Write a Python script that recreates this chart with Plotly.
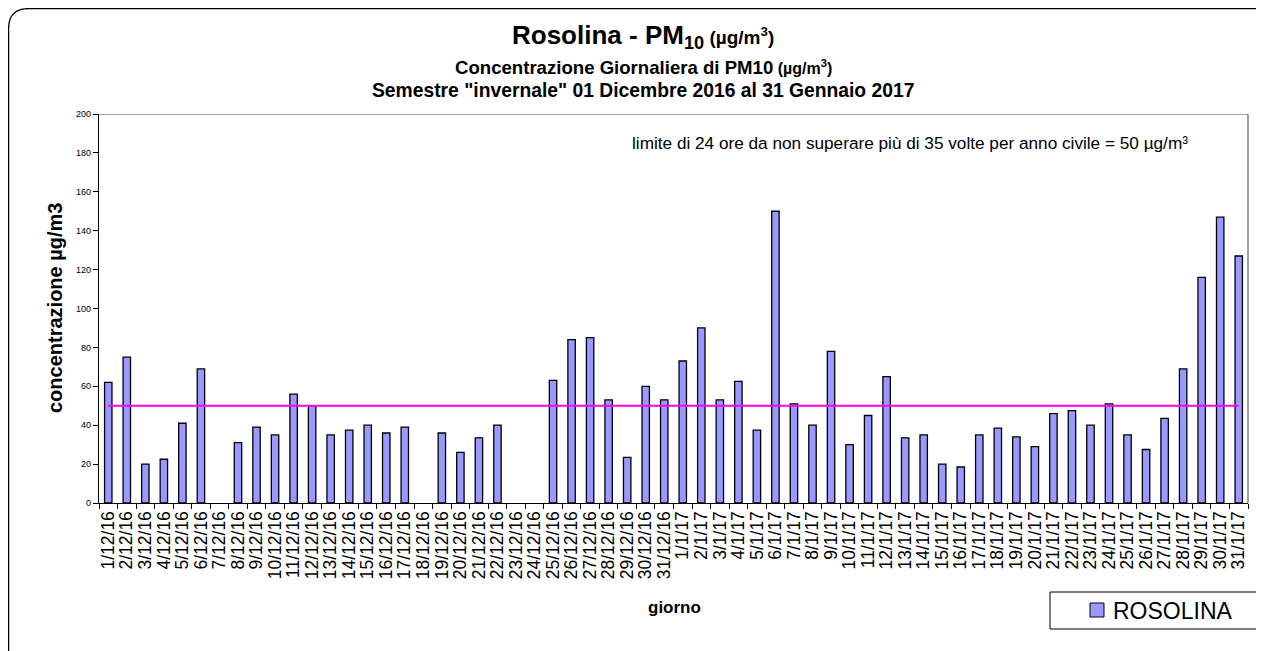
import plotly.graph_objects as go

# ---- data ----
dec_days = list(range(1, 32))
jan_days = list(range(1, 32))
categories = [f"{d}/12/16" for d in dec_days] + [f"{d}/1/17" for d in jan_days]

pm10_dec = [62, 75, 20, 22.5, 41, 69, None, 31, 39, 35, 56, 50, 35, 37.5, 40, 36,
            39, None, 36, 26, 33.5, 40, None, None, 63, 84, 85, 53, 23.5, 60, 53]
pm10_jan = [73, 90, 53, 62.5, 37.5, 150, 51, 40, 78, 30, 45, 65, 33.5, 35, 20, 18.5,
            35, 38.5, 34, 29, 46, 47.5, 40, 51, 35, 27.5, 43.5, 69, 116, 147, 127]
pm10_values = pm10_dec + pm10_jan
limit_value = 50
y_ticks = [0, 20, 40, 60, 80, 100, 120, 140, 160, 180, 200]
series_name = "ROSOLINA"

# ---- geometry helpers (page pixel -> paper); page body has an 8px margin ----
OFF = 8
W, H = 1264 - OFF, 651 - OFF
L, R, T, B = 99 - OFF, 16, 114 - OFF, 148
PW, PH = W - L - R, H - T - B


def px(x):
    return (x - OFF - L) / PW


def py(y):
    return (H - B - (y - OFF)) / PH


FONT = "Arial, Liberation Sans, sans-serif"
BAR_COLOR = "#9999FF"

fig = go.Figure()
fig.add_trace(go.Bar(
    x=categories, y=pm10_values, name=series_name,
    marker=dict(color=BAR_COLOR, line=dict(color="black", width=1.3)),
    width=0.4, showlegend=False,
))
fig.add_trace(go.Scatter(
    x=categories, y=[limit_value] * len(categories), mode="lines",
    line=dict(color="#FF00FF", width=2), showlegend=False, hoverinfo="skip",
))

# rounded outer border (right/bottom fall outside the picture)
x0, y0, x1, y1, r = 8.6, 8.6, 1300, 700, 20
path = (f"M {px(x0)},{py(y1)} L {px(x0)},{py(y0 + r)} "
        f"Q {px(x0)},{py(y0)} {px(x0 + r)},{py(y0)} "
        f"L {px(x1)},{py(y0)} L {px(x1)},{py(y1)} Z")
shapes = [
    dict(type="path", xref="paper", yref="paper", path=path,
         line=dict(color="black", width=1.3), layer="below"),
    dict(type="line", xref="paper", yref="y", x0=0, x1=1, y0=200, y1=200,
         line=dict(color="#808080", width=1.5)),
    dict(type="line", xref="paper", yref="paper", x0=1, x1=1, y0=0, y1=1,
         line=dict(color="#808080", width=1.5)),
    # legend box and key
    dict(type="rect", xref="paper", yref="paper",
         x0=px(1050), x1=px(1258), y0=py(629), y1=py(592),
         line=dict(color="black", width=1), fillcolor="white"),
    dict(type="rect", xref="paper", yref="paper",
         x0=px(1090), x1=px(1104), y0=py(617), y1=py(603),
         line=dict(color="black", width=1), fillcolor=BAR_COLOR),
]

annotations = [
    dict(x=px(643), y=py(37), xref="paper", yref="paper", showarrow=False,
         text="<b>Rosolina - PM<sub>10</sub><span style='font-size:19px'> (µg/m<sup>3</sup>)</span></b>",
         font=dict(family=FONT, size=26, color="black"), xanchor="center", yanchor="middle"),
    dict(x=px(643), y=py(68), xref="paper", yref="paper", showarrow=False,
         text="<b>Concentrazione Giornaliera di PM10<span style='font-size:16px'> (µg/m<sup>3</sup>)</span></b>",
         font=dict(family=FONT, size=18.6, color="black"), xanchor="center", yanchor="middle"),
    dict(x=px(643), y=py(91), xref="paper", yref="paper", showarrow=False,
         text="<b>Semestre \"invernale\" 01 Dicembre 2016 al 31 Gennaio 2017</b>",
         font=dict(family=FONT, size=19.3, color="black"), xanchor="center", yanchor="middle"),
    dict(x=px(910), y=py(143), xref="paper", yref="paper", showarrow=False,
         text="limite di 24 ore da non superare più di 35 volte per anno civile = 50 µg/m³",
         font=dict(family=FONT, size=17.2, color="black"), xanchor="center", yanchor="middle"),
    dict(x=px(55), y=py(308), xref="paper", yref="paper", showarrow=False, textangle=-90,
         text="<b>concentrazione µg/m3</b>",
         font=dict(family=FONT, size=20, color="black"), xanchor="center", yanchor="middle"),
    dict(x=px(674), y=py(607), xref="paper", yref="paper", showarrow=False,
         text="<b>giorno</b>",
         font=dict(family=FONT, size=17, color="black"), xanchor="center", yanchor="middle"),
    dict(x=px(1111), y=py(611), xref="paper", yref="paper", showarrow=False,
         text=series_name,
         font=dict(family=FONT, size=23, color="black"), xanchor="left", yanchor="middle"),
]

fig.update_layout(
    width=W, height=H,
    margin=dict(l=L, r=R, t=T, b=B, autoexpand=False),
    paper_bgcolor="white", plot_bgcolor="white",
    font=dict(family=FONT, color="black"),
    showlegend=False,
    shapes=shapes,
    annotations=annotations,
)
fig.update_xaxes(
    type="category", tickangle=-90, showgrid=False,
    tickmode="linear", tick0=0, dtick=1,
    showline=True, linecolor="black", linewidth=1.3,
    ticks="outside", tickson="boundaries", ticklen=5, tickcolor="black",
    tickfont=dict(family=FONT, size=17.5, color="black"),
    range=[-0.5, len(categories) - 0.5],
)
fig.update_yaxes(
    range=[0, 200], tickvals=y_ticks, showgrid=False, zeroline=False,
    showline=True, linecolor="black", linewidth=1.3,
    ticks="outside", ticklen=5, tickcolor="black",
    tickfont=dict(family=FONT, size=9, color="black"),
)

fig.write_html("out.html")
